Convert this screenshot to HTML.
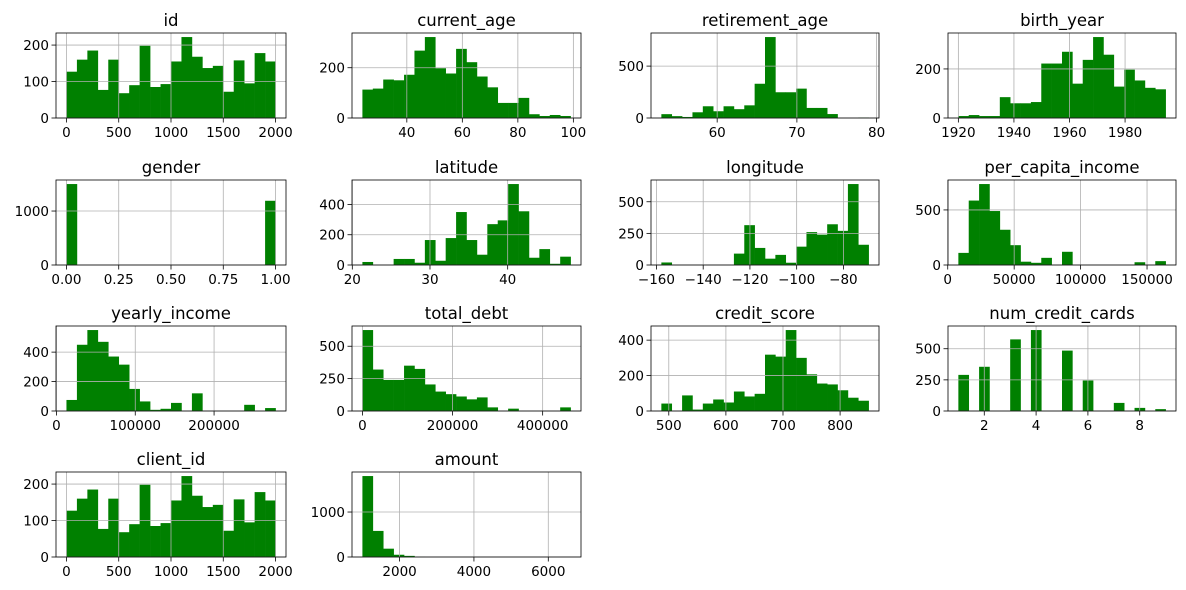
<!DOCTYPE html>
<html><head><meta charset="utf-8"><style>
body{margin:0;background:#fff}
svg{display:block;font-family:"DejaVu Sans","Liberation Sans",sans-serif}
</style></head><body>
<svg id="fig" width="1186" height="590" viewBox="0 0 1186 590" xmlns="http://www.w3.org/2000/svg"></svg>
<script>
// ---- data (20 bins each) ----
const idCounts=[127,160,185,77,160,68,90,198,85,93,155,222,168,137,143,72,158,95,178,155];
const currentAgeCounts=[113,117,153,150,172,268,322,198,177,275,222,165,122,60,60,80,15,8,12,8];
const retirementAgeCounts=[37,18,10,55,113,65,113,85,122,330,780,248,248,283,97,97,38,0,0,5];
const birthYearCounts=[8,12,8,8,85,60,60,65,222,222,270,140,237,330,258,128,197,153,123,117];
const genderCounts=[1500,0,0,0,0,0,0,0,0,0,0,0,0,0,0,0,0,0,0,1190];
const latitudeCounts=[20,0,0,40,40,15,165,28,178,350,165,68,270,295,535,355,48,105,8,55];
const longitudeCounts=[20,0,0,0,0,0,0,90,315,135,50,80,18,145,260,240,322,270,640,160];
const perCapitaCounts=[110,585,735,490,320,180,30,20,65,0,120,0,0,0,0,0,0,25,0,35];
const yearlyIncomeCounts=[75,450,550,470,370,315,150,65,8,15,55,0,120,0,0,0,0,42,0,20];
const totalDebtCounts=[625,320,240,240,350,325,205,150,130,112,90,105,28,0,18,0,0,0,0,28];
const creditScoreCounts=[42,0,88,8,42,65,48,110,82,97,318,307,457,300,207,155,150,117,75,58];
const numCardsCounts=[290,0,355,0,0,575,0,650,0,0,485,0,245,0,0,65,0,25,0,15];
const clientIdCounts=[127,160,185,77,160,68,90,198,85,93,155,222,168,137,143,72,158,95,178,155];
const amountCounts=[1800,580,185,50,25,5,0,0,0,0,0,0,0,0,0,0,0,0,0,2];
// ---- ranges & ticks ----
const titles=["id","current_age","retirement_age","birth_year","gender","latitude","longitude","per_capita_income","yearly_income","total_debt","credit_score","num_credit_cards","client_id","amount"];
const rangeMin=[0,24,53,1920,0,21.3,-157.9,8000,12700,0,487,1,0,1000];
const rangeMax=[2000,99,79,1994.6,1,48.1,-69.2,164000,278000,462000,850,9,2000,6600];
const xTicks=[[0,500,1000,1500,2000],[40,60,80,100],[60,70,80],[1920,1940,1960,1980],[0,0.25,0.5,0.75,1],[20,30,40],[-160,-140,-120,-100,-80],[0,50000,100000,150000],[0,100000,200000],[0,200000,400000],[500,600,700,800],[2,4,6,8],[0,500,1000,1500,2000],[2000,4000,6000]];
const yTicks=[[0,100,200],[0,200],[0,500],[0,200],[0,1000],[0,200,400],[0,250,500],[0,500],[0,200,400],[0,250,500],[0,200,400],[0,250,500],[0,100,200],[0,1000]];
const allCounts=[idCounts,currentAgeCounts,retirementAgeCounts,birthYearCounts,genderCounts,latitudeCounts,longitudeCounts,perCapitaCounts,yearlyIncomeCounts,totalDebtCounts,creditScoreCounts,numCardsCounts,clientIdCounts,amountCounts];

const NS="http://www.w3.org/2000/svg";
const svg=document.getElementById('fig');
const cols=[56,352,651,948], colW=[230,229,228,228], rows=[33,180,326,472], PH=85;
function mk(tag,attrs,parent){const e=document.createElementNS(NS,tag);for(const k in attrs)e.setAttribute(k,attrs[k]);(parent||svg).appendChild(e);return e;}
function fmt(v,i){ if(i===4) return v.toFixed(2); return (v<0?"\u2212":"")+Math.abs(v); }

titles.forEach((t,i)=>{
  const L=cols[i%4], PW=colW[i%4], T=rows[Math.floor(i/4)];
  const counts=allCounts[i];
  const mn=rangeMin[i], mx=rangeMax[i], R=mx-mn;
  const x0=mn-0.05*R, x1=mx+0.05*R;
  const ymax=Math.max(...counts)*1.05;
  const sx=v=>L+(v-x0)/(x1-x0)*PW;
  const sy=v=>T+PH-v/ymax*PH;
  const g=mk('g',{});
  
  
  const bw=R/counts.length;
  counts.forEach((c,b)=>{
    if(c<=0) return;
    const xa=sx(mn+b*bw), xb=sx(mn+(b+1)*bw);
    const r=mk('rect',{x:xa,y:sy(c),width:xb-xa+0.3,height:sy(0)-sy(c),fill:'#008000'},g);
    
    
  });
  xTicks[i].forEach(v=>{
    const x=sx(v);
    const gl=mk('line',{x1:x,x2:x,y1:T,y2:T+PH,stroke:'#b0b0b0','stroke-width':0.8},g);
    
    
    mk('line',{x1:x,x2:x,y1:T+PH,y2:T+PH+4.5,stroke:'#000','stroke-width':0.8},g);
    const tx=mk('text',{x:x,y:T+PH+19,'font-size':13.5,'text-anchor':'middle',fill:'#000'},g);
    tx.textContent=fmt(v,i);
    
    
  });
  yTicks[i].forEach(v=>{
    const y=sy(v);
    const gl=mk('line',{x1:L,x2:L+PW,y1:y,y2:y,stroke:'#b0b0b0','stroke-width':0.8},g);
    
    
    mk('line',{x1:L-4.5,x2:L,y1:y,y2:y,stroke:'#000','stroke-width':0.8},g);
    const tx=mk('text',{x:L-7,y:y+5,'font-size':13.5,'text-anchor':'end',fill:'#000'},g);
    tx.textContent=fmt(v,-1);
    
    
  });
  const fr=mk('rect',{x:L,y:T,width:PW,height:PH,fill:'none',stroke:'#000','stroke-width':0.8},g);
  
  
  const tt=mk('text',{x:L+PW/2,y:T-7,'font-size':16.5,'text-anchor':'middle',fill:'#000'},g);
  tt.textContent=t;
  
  
});
</script>
</body></html>
